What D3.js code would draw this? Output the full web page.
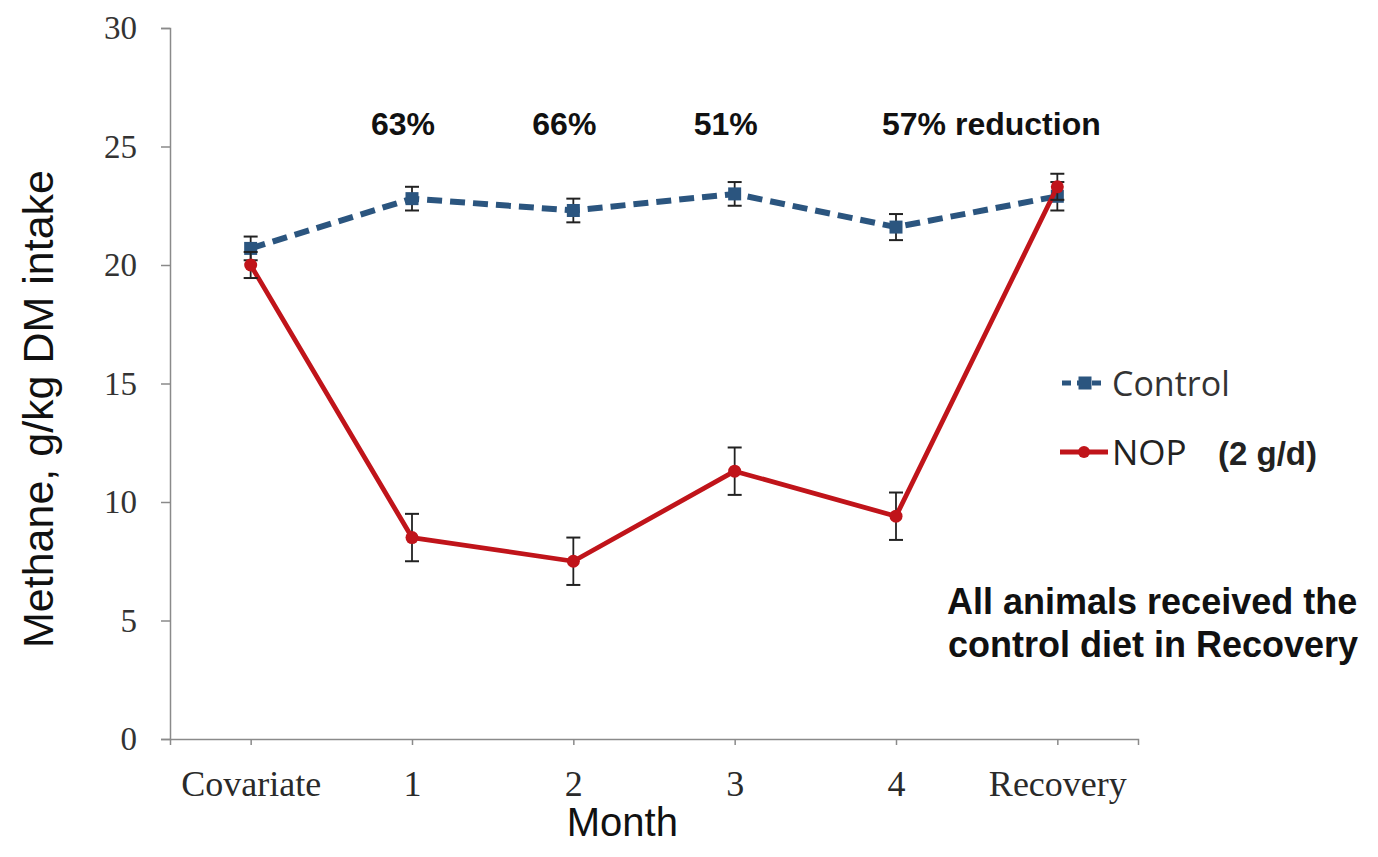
<!DOCTYPE html>
<html>
<head>
<meta charset="utf-8">
<script src="https://cdn.jsdelivr.net/npm/d3@7"></script>
<style>
  html, body { margin: 0; padding: 0; background: #fff; }
  svg { display: block; }
</style>
</head>
<body>
<svg id="chart" width="1378" height="857"></svg>
<script>
// Methane yield per month, control vs NOP-supplemented animals
const categories = ["Covariate", "1", "2", "3", "4", "Recovery"];
const controlMean = [20.7, 22.8, 22.3, 23.0, 21.6, 22.9];
const controlSE   = [0.5, 0.5, 0.5, 0.5, 0.55, 0.6];
const nopMean     = [20.0, 8.5, 7.5, 11.3, 9.4, 23.3];
const nopSE       = [0.55, 1.0, 1.0, 1.0, 1.0, 0.55];
const yTicks      = [0, 5, 10, 15, 20, 25, 30];
const reductionLabels = [
  { cat: "1", text: "63%" },
  { cat: "2", text: "66%" },
  { cat: "3", text: "51%" },
  { cat: "4", text: "57% reduction" }
];

const svg = d3.select("#chart");
const plotLeft = 170, plotRight = 1138, plotTop = 28, plotBottom = 739;

const x = d3.scalePoint().domain(categories).range([plotLeft, plotRight]).padding(0.5);
const y = d3.scaleLinear().domain([0, 30]).range([plotBottom, plotTop]);

const axisColor = "#8a8a8a";
const serif = "'Liberation Serif', 'Times New Roman', serif";
const sans = "'Liberation Sans', Arial, sans-serif";

// Y axis
const yAxis = svg.append("g")
  .attr("transform", `translate(${plotLeft},0)`)
  .call(d3.axisLeft(y).tickValues(yTicks).tickSize(9).tickPadding(24));
yAxis.select(".domain").attr("stroke", axisColor).attr("stroke-width", 1.5);
yAxis.selectAll(".tick line").attr("stroke", axisColor).attr("stroke-width", 1.5);
yAxis.selectAll(".tick text")
  .attr("font-family", serif).attr("font-size", 33).attr("fill", "#333");

// X axis
const xAxis = svg.append("g")
  .attr("transform", `translate(0,${plotBottom})`)
  .call(d3.axisBottom(x).tickSizeInner(6).tickSizeOuter(6).tickPadding(25));
xAxis.select(".domain").attr("stroke", axisColor).attr("stroke-width", 1.5);
xAxis.selectAll(".tick line").attr("stroke", axisColor).attr("stroke-width", 1.5);
xAxis.selectAll(".tick text")
  .attr("font-family", serif).attr("font-size", 36).attr("fill", "#2a2a2a");

// Axis titles
svg.append("text")
  .attr("x", x("2") + 49).attr("y", 836)
  .attr("text-anchor", "middle")
  .attr("font-family", sans).attr("font-size", 40).attr("fill", "#111")
  .text("Month");

svg.append("text")
  .attr("transform", `translate(53,409) rotate(-90)`)
  .attr("text-anchor", "middle")
  .attr("font-family", sans).attr("font-size", 43).attr("fill", "#111")
  .text("Methane, g/kg DM intake");

const controlColor = "#2b557f";
const nopColor = "#c0141a";
const errColor = "#222";

function drawSeries(means, ses, color, dashed, marker) {
  const pts = categories.map((c, i) => ({ c, v: means[i], se: ses[i] }));
  const line = d3.line().x(d => x(d.c)).y(d => y(d.v));
  svg.append("path")
    .datum(pts)
    .attr("fill", "none")
    .attr("stroke", color)
    .attr("stroke-width", dashed ? 6 : 4.8)
    .attr("stroke-dasharray", dashed ? "15,8" : null)
    .attr("stroke-linejoin", "round")
    .attr("d", line);

  const eb = svg.append("g");
  pts.forEach(d => {
    const cx = x(d.c), y1 = y(d.v + d.se), y2 = y(d.v - d.se);
    eb.append("line").attr("x1", cx).attr("x2", cx).attr("y1", y1).attr("y2", y2)
      .attr("stroke", errColor).attr("stroke-width", 1.8);
    [y1, y2].forEach(yy => eb.append("line")
      .attr("x1", cx - 7).attr("x2", cx + 7).attr("y1", yy).attr("y2", yy)
      .attr("stroke", errColor).attr("stroke-width", 2));
  });

  if (marker === "square") {
    svg.append("g").selectAll("rect").data(pts).join("rect")
      .attr("x", d => x(d.c) - 6.5).attr("y", d => y(d.v) - 6.5)
      .attr("width", 13).attr("height", 13).attr("fill", color);
  } else {
    svg.append("g").selectAll("circle").data(pts).join("circle")
      .attr("cx", d => x(d.c)).attr("cy", d => y(d.v))
      .attr("r", 6.5).attr("fill", color);
  }
}

drawSeries(controlMean, controlSE, controlColor, true, "square");
drawSeries(nopMean, nopSE, nopColor, false, "circle");

// Reduction annotations above each treatment month
svg.append("g").selectAll("text").data(reductionLabels).join("text")
  .attr("x", (d, i) => i === reductionLabels.length - 1 ? x(d.cat) - 14 : x(d.cat) - 9)
  .attr("y", 135)
  .attr("text-anchor", (d, i) => i === reductionLabels.length - 1 ? "start" : "middle")
  .attr("font-family", sans).attr("font-weight", "bold").attr("font-size", 32)
  .attr("fill", "#111")
  .text(d => d.text);

// Legend
const legend = svg.append("g");
legend.append("line").attr("x1", 1062).attr("x2", 1106).attr("y1", 383).attr("y2", 383)
  .attr("stroke", controlColor).attr("stroke-width", 5).attr("stroke-dasharray", "9,6");
legend.append("rect").attr("x", 1078.5).attr("y", 376.5).attr("width", 13).attr("height", 13)
  .attr("fill", controlColor);
legend.append("text").attr("x", 1112).attr("y", 396)
  .attr("font-family", "'Open Sans', 'Noto Sans', sans-serif").attr("font-size", 34).attr("fill", "#333")
  .text("Control");

legend.append("line").attr("x1", 1060).attr("x2", 1108).attr("y1", 452).attr("y2", 452)
  .attr("stroke", nopColor).attr("stroke-width", 4.8);
legend.append("circle").attr("cx", 1084).attr("cy", 452).attr("r", 6).attr("fill", nopColor);
const nopText = legend.append("text").attr("x", 1112).attr("y", 465)
  .attr("font-family", "'Open Sans', 'Noto Sans', sans-serif").attr("font-size", 35).attr("fill", "#222");
nopText.append("tspan").text("NOP");
nopText.append("tspan").attr("x", 1218)
  .attr("font-family", sans).attr("font-weight", "bold").attr("font-size", 33)
  .text("(2 g/d)");

// Note about the recovery period
const note = svg.append("text")
  .attr("font-family", sans).attr("font-weight", "bold").attr("font-size", 36).attr("fill", "#111");
note.append("tspan").attr("x", 947).attr("y", 614).text("All animals received the");
note.append("tspan").attr("x", 948).attr("y", 657).text("control diet in Recovery");
</script>
</body>
</html>
